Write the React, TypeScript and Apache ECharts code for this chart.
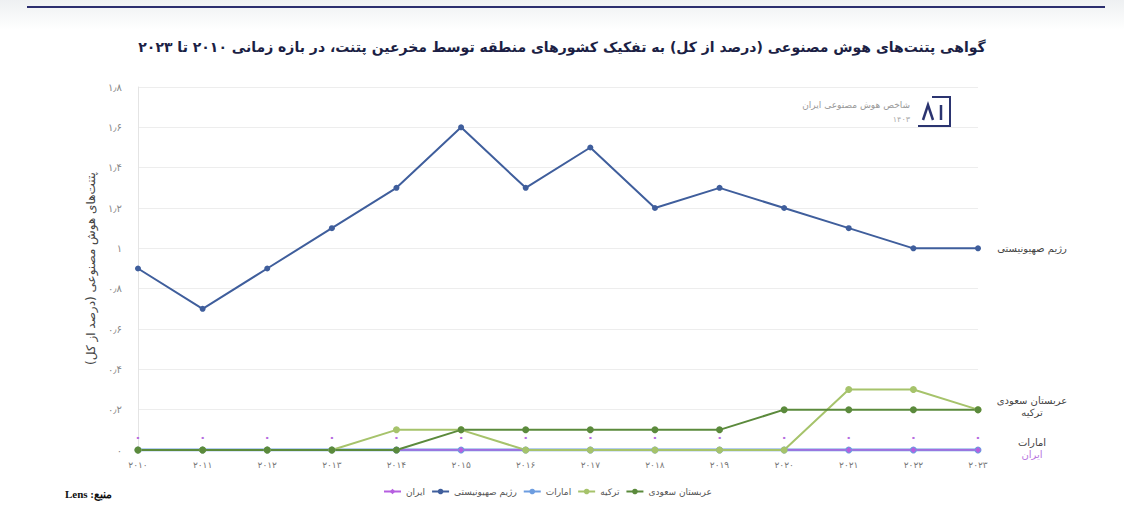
import { useEffect, useRef } from "react";
import * as echarts from "echarts";

const years = ["2010", "2011", "2012", "2013", "2014", "2015", "2016", "2017", "2018", "2019", "2020", "2021", "2022", "2023"];
const israel = [0.9, 0.7, 0.9, 1.1, 1.3, 1.6, 1.3, 1.5, 1.2, 1.3, 1.2, 1.1, 1.0, 1.0];
const saudi = [0, 0, 0, 0, 0, 0.1, 0.1, 0.1, 0.1, 0.1, 0.2, 0.2, 0.2, 0.2];
const turkey = [0, 0, 0, 0, 0.1, 0.1, 0, 0, 0, 0, 0, 0.3, 0.3, 0.2];
const uae = [0, 0, 0, 0, 0, 0, 0, 0, 0, 0, 0, 0, 0, 0];
const iran = [0, 0, 0, 0, 0, 0, 0, 0, 0, 0, 0, 0, 0, 0];
const legendOrder = ["ایران", "رژیم صهیونیستی", "امارات", "ترکیه", "عربستان سعودی"];

const faDigits = "۰۱۲۳۴۵۶۷۸۹";
const toFa = (s: string) => s.replace(/\d/g, (d) => faDigits[+d]).replace(".", "٫");

const font = "DejaVu Sans";

export default function App() {
  const ref = useRef<HTMLDivElement | null>(null);

  useEffect(() => {
    document.body.style.margin = "0";
    if (!ref.current) return;
    const chart = echarts.init(ref.current, undefined, { renderer: "svg" });

    const endLabel = (color: string, dy: number) => ({
      show: true,
      formatter: "{a}",
      color,
      fontFamily: font,
      fontSize: 10,
      distance: 0,
      align: "center",
      offset: [54, dy]
    });

    chart.setOption({
      animation: false,
      textStyle: { fontFamily: font },
      title: {
        text: "گواهی پتنت‌های هوش مصنوعی (درصد از کل) به تفکیک کشورهای منطقه توسط مخرعین پتنت، در بازه زمانی ۲۰۱۰ تا ۲۰۲۳",
        left: "center",
        top: 35,
        textStyle: { fontFamily: font, fontSize: 14, fontWeight: "bold", color: "#1c1f45" }
      },
      grid: { left: 138, right: 146, top: 87, bottom: 77 },
      legend: {
        data: legendOrder,
        left: 378,
        top: 482,
        itemGap: 6,
        itemWidth: 17,
        itemHeight: 7,
        textStyle: { fontFamily: font, fontSize: 9, color: "#555" }
      },
      xAxis: {
        type: "category",
        data: years,
        boundaryGap: false,
        axisLine: { lineStyle: { color: "#dcdcdc" } },
        axisTick: { show: false },
        axisLabel: { color: "#777", fontSize: 9, margin: 10, formatter: (v: string) => toFa(v) }
      },
      yAxis: {
        type: "value",
        min: 0,
        max: 1.8,
        interval: 0.2,
        name: "پتنت‌های هوش مصنوعی (درصد از کل)",
        nameLocation: "middle",
        nameGap: 38,
        nameTextStyle: { fontFamily: font, fontSize: 12, color: "#444", fontWeight: 500 },
        axisLine: { show: true, lineStyle: { color: "#e4e4e4" } },
        axisTick: { show: false },
        splitLine: { lineStyle: { color: "#ededed" } },
        axisLabel: {
          color: "#888",
          fontSize: 10,
          margin: 16,
          formatter: (v: number) => toFa(String(Math.round(v * 10) / 10))
        }
      },
      graphic: [
        { type: "line", shape: { x1: 27, y1: 7, x2: 1105, y2: 7 }, style: { stroke: "#2b2e6e", lineWidth: 2 } },
        {
          type: "text",
          left: 65,
          top: 488,
          style: { text: "Lens :منبع", font: "bold 11px 'Liberation Serif'", fill: "#111" }
        },
        {
          type: "group",
          x: 918,
          y: 97,
          children: [
            { type: "polyline", shape: { points: [[14, 0], [32, 0], [32, 29], [0, 29]] }, style: { stroke: "#2b3470", lineWidth: 2, fill: "none" } },
            { type: "polyline", shape: { points: [[5, 23], [10, 8], [15, 23]] }, style: { stroke: "#2b3470", lineWidth: 2.5, fill: "none" } },
            { type: "line", shape: { x1: 23, y1: 8, x2: 23, y2: 23 }, style: { stroke: "#2b3470", lineWidth: 2.5 } }
          ]
        },
        {
          type: "text",
          right: 1124 - 910,
          top: 100,
          style: { text: "شاخص هوش مصنوعی ایران", font: "9px 'DejaVu Sans'", fill: "#999", textAlign: "right" }
        },
        {
          type: "text",
          right: 1124 - 910,
          top: 115,
          style: { text: "۱۴۰۳", font: "8px 'DejaVu Sans'", fill: "#aaa", textAlign: "right" }
        }
      ],
      series: [
        {
          name: "امارات",
          type: "line",
          data: uae,
          symbol: "circle",
          symbolSize: 7,
          itemStyle: { color: "#6d9de0" },
          lineStyle: { width: 3, color: "#6d9de0" },
          endLabel: endLabel("#444", -8)
        },
        {
          name: "ایران",
          type: "line",
          data: iran,
          symbol: "diamond",
          symbolSize: 6,
          itemStyle: { color: "#b65fe0" },
          lineStyle: { width: 1.5, color: "#b65fe0" },
          label: { show: true, position: "top", distance: 4, formatter: () => "۰", color: "#b66de0", fontSize: 12, fontWeight: "bold" },
          endLabel: endLabel("#b877e0", 4)
        },
        {
          name: "رژیم صهیونیستی",
          type: "line",
          data: israel,
          symbol: "circle",
          symbolSize: 6,
          itemStyle: { color: "#3f5e9c" },
          lineStyle: { width: 2, color: "#3f5e9c" },
          endLabel: endLabel("#444", 0)
        },
        {
          name: "ترکیه",
          type: "line",
          data: turkey,
          symbol: "circle",
          symbolSize: 7,
          itemStyle: { color: "#a6c36b" },
          lineStyle: { width: 2, color: "#a6c36b" },
          endLabel: endLabel("#444", 3)
        },
        {
          name: "عربستان سعودی",
          type: "line",
          data: saudi,
          symbol: "circle",
          symbolSize: 7,
          itemStyle: { color: "#5b8a3c" },
          lineStyle: { width: 2, color: "#5b8a3c" },
          endLabel: endLabel("#444", -9)
        }
      ]
    });

    return () => chart.dispose();
  }, []);

  return (
    <div
      ref={ref}
      style={{
        width: 1124,
        height: 527,
        background: "linear-gradient(#eef0f2 0px, #ffffff 30px)"
      }}
    />
  );
}
